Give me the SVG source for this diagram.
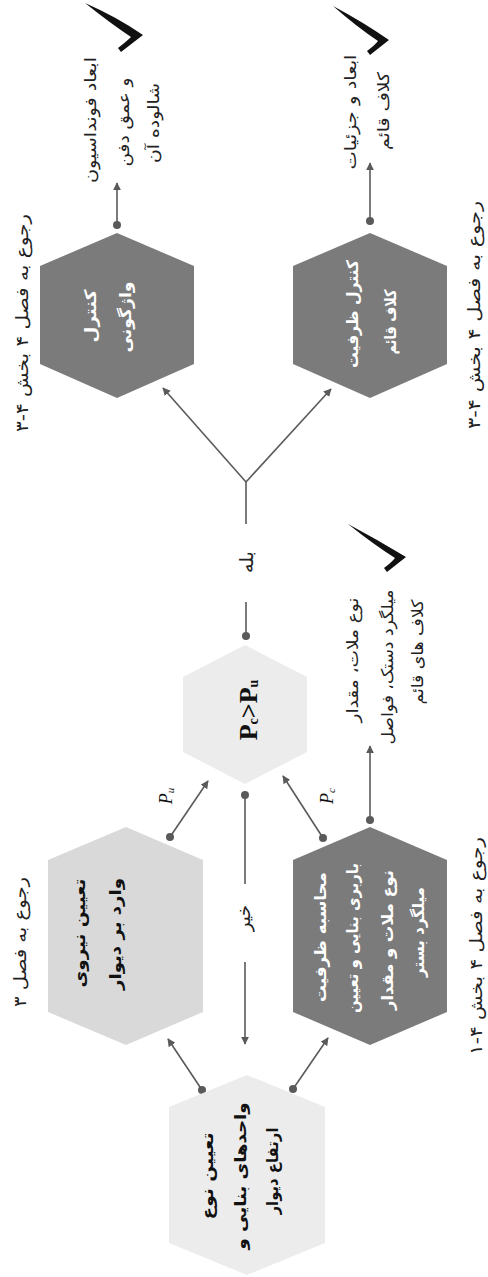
<svg xmlns="http://www.w3.org/2000/svg" width="488" height="1277" viewBox="0 0 488 1277">
<style>
.dark{fill:#7b7b7b}
.mid{fill:#d9d9d9}
.light{fill:#ececec}
.fa{font-family:"DejaVu Sans","Noto Sans",sans-serif;text-anchor:middle;dominant-baseline:central}
.wt{fill:#ffffff;font-size:16px;font-weight:bold}
.bk{fill:#111111;font-size:16px;font-weight:bold}
.lbl{fill:#222222;font-size:16px}
.side{fill:#222222;font-size:17px}
.con{stroke:#5a5a5a;stroke-width:1.6;fill:none}
.dot{fill:#5a5a5a}
.chk{fill:#111111}
.math{font-family:"Liberation Serif",serif;text-anchor:middle;dominant-baseline:central;fill:#111}
</style>
<defs>
<marker id="arr" viewBox="0 0 10 10" refX="9" refY="5" markerWidth="8" markerHeight="8" markerUnits="userSpaceOnUse" orient="auto">
<path d="M0,0 L10,5 L0,10 Z" fill="#5a5a5a"/>
</marker>
</defs>
<rect width="488" height="1277" fill="#ffffff"/>

<g id="connectors">
<line class="con" x1="117" y1="225" x2="117" y2="183" marker-end="url(#arr)"/>
<circle class="dot" cx="117" cy="225" r="4"/>
<line class="con" x1="370" y1="221" x2="370" y2="163" marker-end="url(#arr)"/>
<circle class="dot" cx="370" cy="221" r="4"/>
<line class="con" x1="246" y1="482" x2="163" y2="388" marker-end="url(#arr)"/>
<line class="con" x1="246" y1="482" x2="331" y2="389" marker-end="url(#arr)"/>
<line class="con" x1="246" y1="482" x2="246" y2="524"/>
<line class="con" x1="246" y1="602" x2="246" y2="636"/>
<circle class="dot" cx="246" cy="636" r="4"/>
<line class="con" x1="170" y1="837" x2="208" y2="781" marker-end="url(#arr)"/>
<circle class="dot" cx="170" cy="837" r="4"/>
<line class="con" x1="323" y1="838" x2="283" y2="776" marker-end="url(#arr)"/>
<circle class="dot" cx="323" cy="838" r="4"/>
<line class="con" x1="245" y1="795" x2="245" y2="884"/>
<circle class="dot" cx="245" cy="795" r="4"/>
<line class="con" x1="245" y1="962" x2="245" y2="1044" marker-end="url(#arr)"/>
<line class="con" x1="370" y1="820" x2="370" y2="746" marker-end="url(#arr)"/>
<circle class="dot" cx="370" cy="820" r="4"/>
<line class="con" x1="202" y1="1090" x2="168" y2="1039" marker-end="url(#arr)"/>
<circle class="dot" cx="202" cy="1090" r="4"/>
<line class="con" x1="293" y1="1089" x2="328" y2="1038" marker-end="url(#arr)"/>
<circle class="dot" cx="293" cy="1089" r="4"/>
<text class="fa lbl" style="font-size:19px" transform="translate(246,562) rotate(-90)">بله</text>
<text class="fa lbl" style="font-size:18px" transform="translate(243,918) rotate(-90)">خیر</text>
<text class="math" font-size="18" font-style="italic" transform="translate(166,796) rotate(-90)">P<tspan font-size="11" dy="4">u</tspan></text>
<text class="math" font-size="18" font-style="italic" transform="translate(327,796) rotate(-90)">P<tspan font-size="11" dy="4">c</tspan></text>
</g>

<g id="node-overturn">
<polygon class="dark" points="117,233 194,266 194,364 117,398 40,364 40,266"/>
<text class="fa wt" transform="translate(90,316) rotate(-90)" textLength="53" lengthAdjust="spacingAndGlyphs">کنترل</text>
<text class="fa wt" transform="translate(125,317) rotate(-90)" textLength="71" lengthAdjust="spacingAndGlyphs">واژگونی</text>
</g>

<g id="node-tiecap">
<polygon class="dark" points="370,233 447,266 447,364 370,398 293,364 293,266"/>
<text class="fa wt" transform="translate(352,314) rotate(-90)" textLength="108" lengthAdjust="spacingAndGlyphs">کنترل ظرفیت</text>
<text class="fa wt" transform="translate(390,322) rotate(-90)" textLength="65" lengthAdjust="spacingAndGlyphs">کلاف قائم</text>
</g>

<g id="node-check">
<polygon class="light" points="245,645 307,677 307,752 245,784 183,752 183,677"/>
<text class="math" font-size="26" font-weight="bold" transform="translate(248,710) rotate(-90)">P<tspan font-size="14" dy="5">c</tspan><tspan dy="-5">&gt;P</tspan><tspan font-size="14" dy="5">u</tspan></text>
</g>

<g id="node-load">
<polygon class="mid" points="126,827 203,860 203,1012 126,1045 48,1012 48,860"/>
<text class="fa bk" transform="translate(79,933) rotate(-90)" textLength="109" lengthAdjust="spacingAndGlyphs">تعیین نیروی</text>
<text class="fa bk" transform="translate(115,934) rotate(-90)" textLength="112" lengthAdjust="spacingAndGlyphs">وارد بر دیوار</text>
</g>

<g id="node-capacity">
<polygon class="dark" points="370,827 447,860 447,1012 370,1045 293,1012 293,860"/>
<text class="fa wt" transform="translate(320,937) rotate(-90)" textLength="130" lengthAdjust="spacingAndGlyphs">محاسبه ظرفیت</text>
<text class="fa wt" transform="translate(352,938) rotate(-90)" textLength="150" lengthAdjust="spacingAndGlyphs">باربری بنایی و تعیین</text>
<text class="fa wt" transform="translate(387,940) rotate(-90)" textLength="140" lengthAdjust="spacingAndGlyphs">نوع ملات و مقدار</text>
<text class="fa wt" transform="translate(418,932) rotate(-90)" textLength="90" lengthAdjust="spacingAndGlyphs">میلگرد بستر</text>
</g>

<g id="node-start">
<polygon class="light" points="247,1075 325,1107 325,1243 247,1275 169,1243 169,1107"/>
<text class="fa bk" transform="translate(207,1176) rotate(-90)" textLength="87" lengthAdjust="spacingAndGlyphs">تعیین نوع</text>
<text class="fa bk" transform="translate(240,1176) rotate(-90)" textLength="147" lengthAdjust="spacingAndGlyphs">واحدهای بنایی و</text>
<text class="fa bk" transform="translate(272,1171) rotate(-90)" textLength="87" lengthAdjust="spacingAndGlyphs">ارتفاع دیوار</text>
</g>

<g id="out-foundation">
<text class="fa lbl" transform="translate(90,120) rotate(-90)" textLength="126" lengthAdjust="spacingAndGlyphs">ابعاد فونداسیون</text>
<text class="fa lbl" transform="translate(123,122) rotate(-90)" textLength="89" lengthAdjust="spacingAndGlyphs">و عمق دفن</text>
<text class="fa lbl" transform="translate(153,123) rotate(-90)" textLength="80" lengthAdjust="spacingAndGlyphs">شالوده آن</text>
<path class="chk" d="M85,3 Q117,17 143,35 L121,52 L118,48 Q127,41 131,37 Q110,23 85,3 Z"/>
</g>

<g id="out-tie">
<text class="fa lbl" transform="translate(350,112) rotate(-90)" textLength="115" lengthAdjust="spacingAndGlyphs">ابعاد و جزئیات</text>
<text class="fa lbl" transform="translate(383,111) rotate(-90)" textLength="78" lengthAdjust="spacingAndGlyphs">کلاف قائم</text>
<path class="chk" d="M333,6 Q363,22 389,40 L370,55 L367,51 Q375,45 378,41 Q357,27 333,6 Z"/>
</g>

<g id="out-mortar">
<text class="fa lbl" transform="translate(352,660) rotate(-90)" textLength="125" lengthAdjust="spacingAndGlyphs">نوع ملات، مقدار</text>
<text class="fa lbl" transform="translate(387,667) rotate(-90)" textLength="155" lengthAdjust="spacingAndGlyphs">میلگرد دستک، فواصل</text>
<text class="fa lbl" transform="translate(417,652) rotate(-90)" textLength="105" lengthAdjust="spacingAndGlyphs">کلاف های قائم</text>
<path class="chk" d="M348,524 Q378,540 406,557 L387,572 L384,568 Q392,562 395,558 Q373,544 348,524 Z"/>
</g>

<g id="refs">
<text class="fa side" transform="translate(22,323) rotate(-90)" textLength="218" lengthAdjust="spacingAndGlyphs">رجوع به فصل ۴ بخش ۴-۳</text>
<text class="fa side" transform="translate(474,315) rotate(-90)" textLength="228" lengthAdjust="spacingAndGlyphs">رجوع به فصل ۴ بخش ۴-۳</text>
<text class="fa side" transform="translate(20,942) rotate(-90)" textLength="130" lengthAdjust="spacingAndGlyphs">رجوع به فصل ۳</text>
<text class="fa side" transform="translate(476,946) rotate(-90)" textLength="218" lengthAdjust="spacingAndGlyphs">رجوع به فصل ۴ بخش ۴-۱</text>
</g>
</svg>
